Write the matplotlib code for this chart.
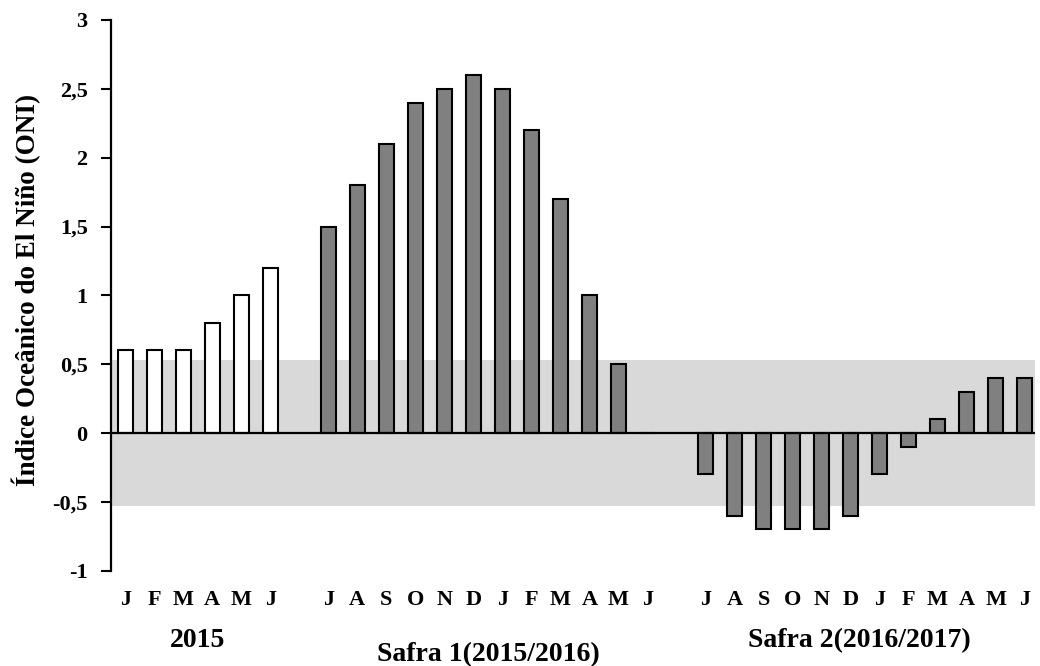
import numpy as np
import matplotlib
matplotlib.use("Agg")
import matplotlib.pyplot as plt

plt.rcParams["font.family"] = ["Liberation Serif", "DejaVu Serif"]
plt.rcParams["font.weight"] = "bold"

# 2015 (Jan-Jun), blank, Safra 1 (Jul 2015 - Jun 2016), blank, Safra 2 (Jul 2016 - Jun 2017)
months_2015 = ["J", "F", "M", "A", "M", "J"]
months_safra = ["J", "A", "S", "O", "N", "D", "J", "F", "M", "A", "M", "J"]
oni_2015 = [0.6, 0.6, 0.6, 0.8, 1.0, 1.2]
oni_safra1 = [1.5, 1.8, 2.1, 2.4, 2.5, 2.6, 2.5, 2.2, 1.7, 1.0, 0.5, 0.0]
oni_safra2 = [-0.3, -0.6, -0.7, -0.7, -0.7, -0.6, -0.3, -0.1, 0.1, 0.3, 0.4, 0.4]
groups = ["2015", "Safra 1(2015/2016)", "Safra 2(2016/2017)"]
neutral_band = 0.53

x2015 = np.arange(len(months_2015))
x1 = np.arange(len(months_safra)) + len(months_2015) + 1
x2 = np.arange(len(months_safra)) + x1[-1] + 2

fig = plt.figure(figsize=(10.4, 6.66), dpi=100)
ax = fig.add_axes([0.107, 0.143, 0.888, 0.827])

ax.axhspan(-neutral_band, neutral_band, color="#d9d9d9", lw=0, zorder=0)
w = 0.52
ax.bar(x2015, oni_2015, width=w, color="white", edgecolor="black", lw=1.5, zorder=2)
ax.bar(x1, oni_safra1, width=w, color="#808080", edgecolor="black", lw=1.5, zorder=2)
ax.bar(x2, oni_safra2, width=w, color="#808080", edgecolor="black", lw=1.5, zorder=2)
ax.axhline(0, color="black", lw=1.6, zorder=3)

ax.set_xlim(-0.48, x2[-1] + 0.35)
ax.set_ylim(-1, 3)
yt = np.arange(-1, 3.01, 0.5)
ax.set_yticks(yt)
ax.set_yticklabels([("%g" % v).replace(".", ",") for v in yt], fontsize=16, fontweight="bold")
ax.tick_params(axis="y", direction="out", length=7, width=1.5, pad=10)
ax.set_xticks([])
for s in ["top", "right", "bottom"]:
    ax.spines[s].set_visible(False)
ax.spines["left"].set_linewidth(1.6)

xs = list(x2015) + list(x1) + list(x2)
labels = months_2015 + months_safra + months_safra
for xv, lab in zip(xs, labels):
    ax.text(xv, -1.21, lab, ha="center", va="center", fontsize=16, fontweight="bold")

ax.text(x2015.mean(), -1.51, groups[0], ha="center", va="center", fontsize=20, fontweight="bold")
ax.text(x1.mean(), -1.61, groups[1], ha="center", va="center", fontsize=20, fontweight="bold")
ax.text(x2.mean() - 0.2, -1.51, groups[2], ha="center", va="center", fontsize=20, fontweight="bold")

fig.text(0.025, 0.565, "Índice Oceânico do El Niño (ONI)", rotation=90,
         ha="center", va="center", fontsize=19.5, fontweight="bold")

fig.savefig("out.png", dpi=100)
